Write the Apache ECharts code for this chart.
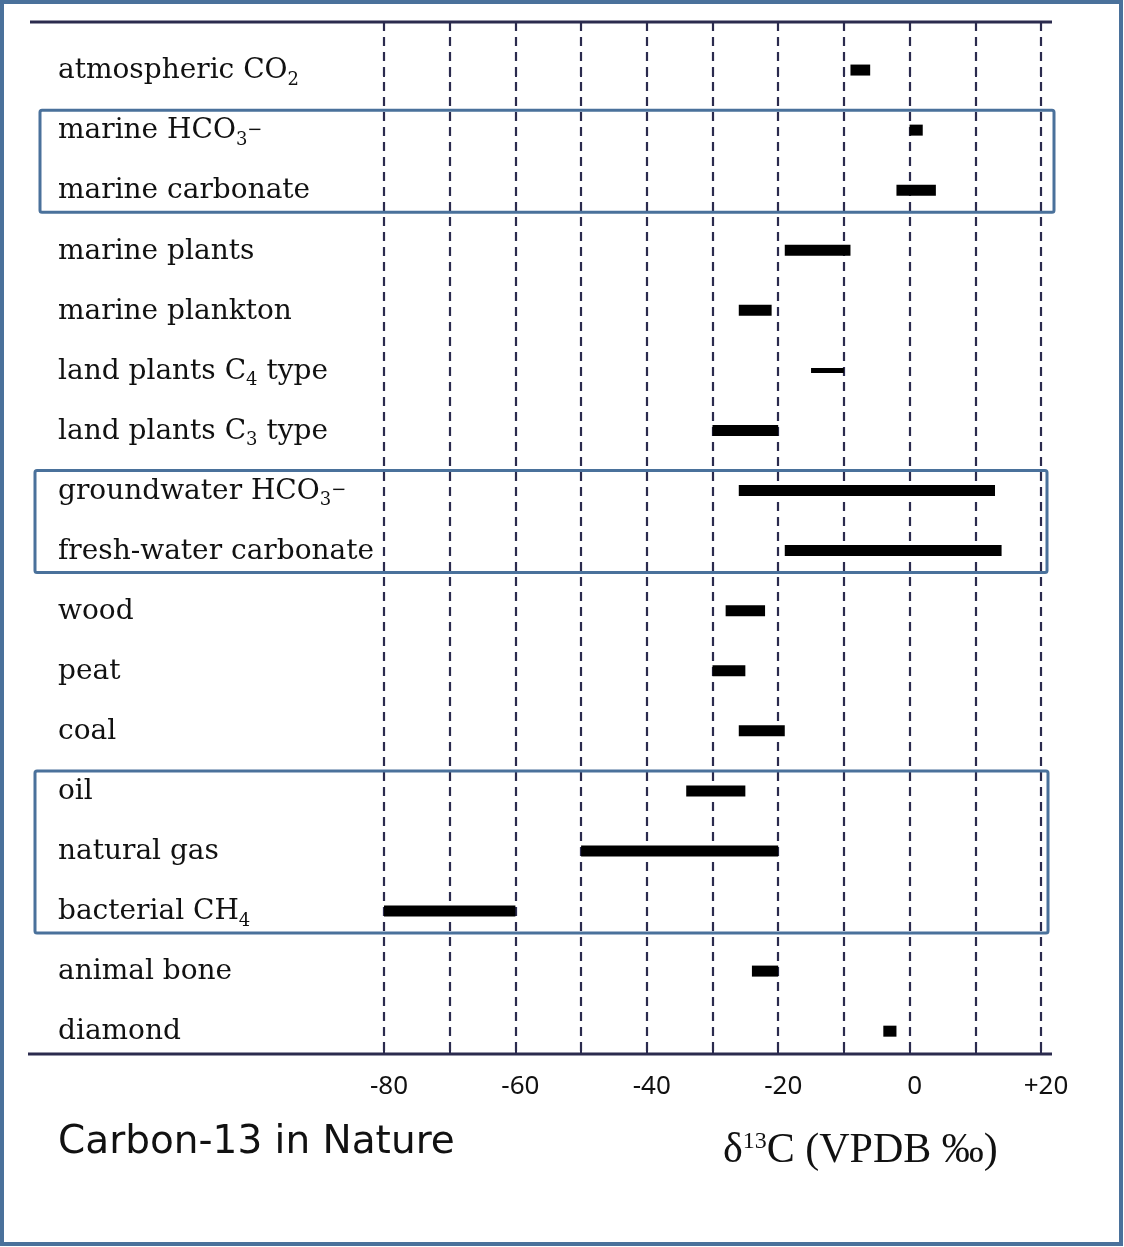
<!DOCTYPE html>
<html>
<head>
<meta charset="utf-8">
<title>Carbon-13 in Nature</title>
<script src="https://cdn.jsdelivr.net/npm/echarts@6/dist/echarts.min.js"></script>
<style>
  html, body { margin: 0; padding: 0; background: #fff; }
  #chart { width: 1124px; height: 1247px; }
</style>
</head>
<body>
<div id="chart"></div>
<script>
// Carbon reservoirs, top to bottom. "_x" marks a subscript, "^x" a superscript.
const categories = [
  'atmospheric CO_2',
  'marine HCO_3^\u2212',
  'marine carbonate',
  'marine plants',
  'marine plankton',
  'land plants C_4 type',
  'land plants C_3 type',
  'groundwater HCO_3^\u2212',
  'fresh-water carbonate',
  'wood',
  'peat',
  'coal',
  'oil',
  'natural gas',
  'bacterial CH_4',
  'animal bone',
  'diamond'
];

// δ13C range of each reservoir (‰ VPDB)
const rangeLow  = [-9,  0, -2, -19, -26, -15, -30, -26, -19, -28, -30, -26, -34, -50, -80, -24, -4];
const rangeHigh = [-6,  2,  4,  -9, -21, -10, -20,  13,  14, -22, -25, -19, -25, -20, -60, -20, -2];

// x-axis tick labels shown every 20‰
const tickLabels = { '-80': '-80', '-60': '-60', '-40': '-40', '-20': '-20', '0': '0', '20': '+20' };

// reservoirs drawn with a thin bar
const thinRows = new Set(['land plants C_4 type']);

// framed groups of reservoirs (first and last row of each)
const groups = [
  ['marine HCO_3^\u2212', 'marine carbonate'],
  ['groundwater HCO_3^\u2212', 'fresh-water carbonate'],
  ['oil', 'bacterial CH_4']
];

function toRich(name) {
  let out = '';
  let buf = '';
  for (let i = 0; i < name.length; i++) {
    const ch = name[i];
    if ((ch === '_' || ch === '^') && i + 1 < name.length) {
      if (buf) { out += '{m|' + buf + '}'; buf = ''; }
      out += (ch === '_' ? '{s|' : '{u|') + name[i + 1] + '}';
      i++;
    } else {
      buf += ch;
    }
  }
  if (buf) out += '{m|' + buf + '}';
  return out;
}

const rows = categories.map((c, i) => [i, rangeLow[i], rangeHigh[i]]);
const frame = '#4a719b';
const ink = '#2b2b4e';

const chart = echarts.init(document.getElementById('chart'), null, { renderer: 'canvas' });

const option = {
  backgroundColor: '#fff',
  animation: false,
  title: [
    {
      text: 'Carbon-13 in Nature',
      left: 58, top: 1123, padding: 0,
      textStyle: { fontFamily: 'DejaVu Sans', fontSize: 39, fontWeight: 'normal', color: '#111' }
    },
    {
      text: '{a|\u03b4}{b|13}{a|C (VPDB \u2030)}',
      left: 723, top: 1130, padding: 0,
      textStyle: {
        fontWeight: 'normal',
        rich: {
          a: { fontFamily: 'Liberation Serif', fontWeight: 'normal', fontSize: 42, color: '#111', verticalAlign: 'bottom', lineHeight: 42 },
          b: { fontFamily: 'Liberation Serif', fontWeight: 'normal', fontSize: 24, color: '#111', verticalAlign: 'top', lineHeight: 26 }
        }
      }
    }
  ],
  grid: { left: 384, right: 83, top: 22, bottom: 193, containLabel: false },
  xAxis: [
    {
      type: 'value', min: -80, max: 20, interval: 10, position: 'bottom',
      axisLine: { show: false },
      axisTick: { show: true, length: 7, lineStyle: { color: ink, width: 2 } },
      axisLabel: {
        margin: 20,
        fontFamily: 'Noto Sans', fontSize: 26, color: '#111',
        padding: [0, 0, 0, 10],
        formatter: v => tickLabels[String(v)] || ''
      },
      splitLine: { show: true, lineStyle: { type: [9, 6], color: ink, width: 2.2 } }
    },
    {
      type: 'value', min: -80, max: 20, interval: 10, position: 'bottom',
      axisLine: { show: false },
      axisTick: { show: true, inside: true, length: 7, lineStyle: { color: ink, width: 2 } },
      axisLabel: { show: false },
      splitLine: { show: false }
    }
  ],
  yAxis: {
    type: 'value', inverse: true, min: -0.8, max: 16.38,
    axisLine: { show: false },
    axisTick: { show: false },
    splitLine: { show: false },
    axisLabel: {
      customValues: categories.map((c, i) => i),
      align: 'left',
      margin: 326,
      padding: [10, 0, 0, 0],
      formatter: v => toRich(categories[Math.round(v)]),
      rich: {
        m: { fontFamily: 'DejaVu Serif', fontSize: 28, lineHeight: 28, color: '#111', padding: [0, 0, 4, 0], verticalAlign: 'bottom' },
        s: { fontFamily: 'DejaVu Serif', fontSize: 18, lineHeight: 17, color: '#111', verticalAlign: 'bottom' },
        u: { fontFamily: 'DejaVu Serif', fontSize: 18, lineHeight: 17, color: '#111', verticalAlign: 'top' }
      }
    }
  },
  series: [
    {
      type: 'custom',
      xAxisIndex: 0,
      data: rows,
      encode: { x: [1, 2], y: 0 },
      renderItem: function (params, api) {
        const row = api.value(0);
        const a = api.coord([api.value(1), row]);
        const b = api.coord([api.value(2), row]);
        const h = thinRows.has(categories[row]) ? 5 : 11;
        return {
          type: 'rect',
          shape: { x: a[0], y: a[1] - h / 2, width: b[0] - a[0], height: h },
          style: { fill: '#000' }
        };
      }
    }
  ]
};

chart.setOption(option);

// frame lines, group boxes and page border
function rowY(name) {
  return chart.convertToPixel({ yAxisIndex: 0 }, categories.indexOf(name));
}
const gfx = [
  { type: 'rect', shape: { x: 2, y: 2, width: 1119, height: 1242 }, style: { fill: 'none', stroke: frame, lineWidth: 4 }, z: 10 },
  { type: 'line', shape: { x1: 30, y1: 22, x2: 1052, y2: 22 }, style: { stroke: ink, lineWidth: 3 }, z: 10 },
  { type: 'line', shape: { x1: 28, y1: 1054, x2: 1052, y2: 1054 }, style: { stroke: ink, lineWidth: 3 }, z: 10 }
];
const boxX = [[40, 1054], [35, 1047], [35, 1048]];
groups.forEach((g, k) => {
  const y0 = rowY(g[0]) - 20;
  const y1 = rowY(g[1]) + 22;
  gfx.push({
    type: 'rect',
    shape: { x: boxX[k][0], y: y0, width: boxX[k][1] - boxX[k][0], height: y1 - y0, r: 2 },
    style: { fill: 'none', stroke: frame, lineWidth: 3 },
    z: 10
  });
});
chart.setOption({ graphic: gfx });
</script>
</body>
</html>
